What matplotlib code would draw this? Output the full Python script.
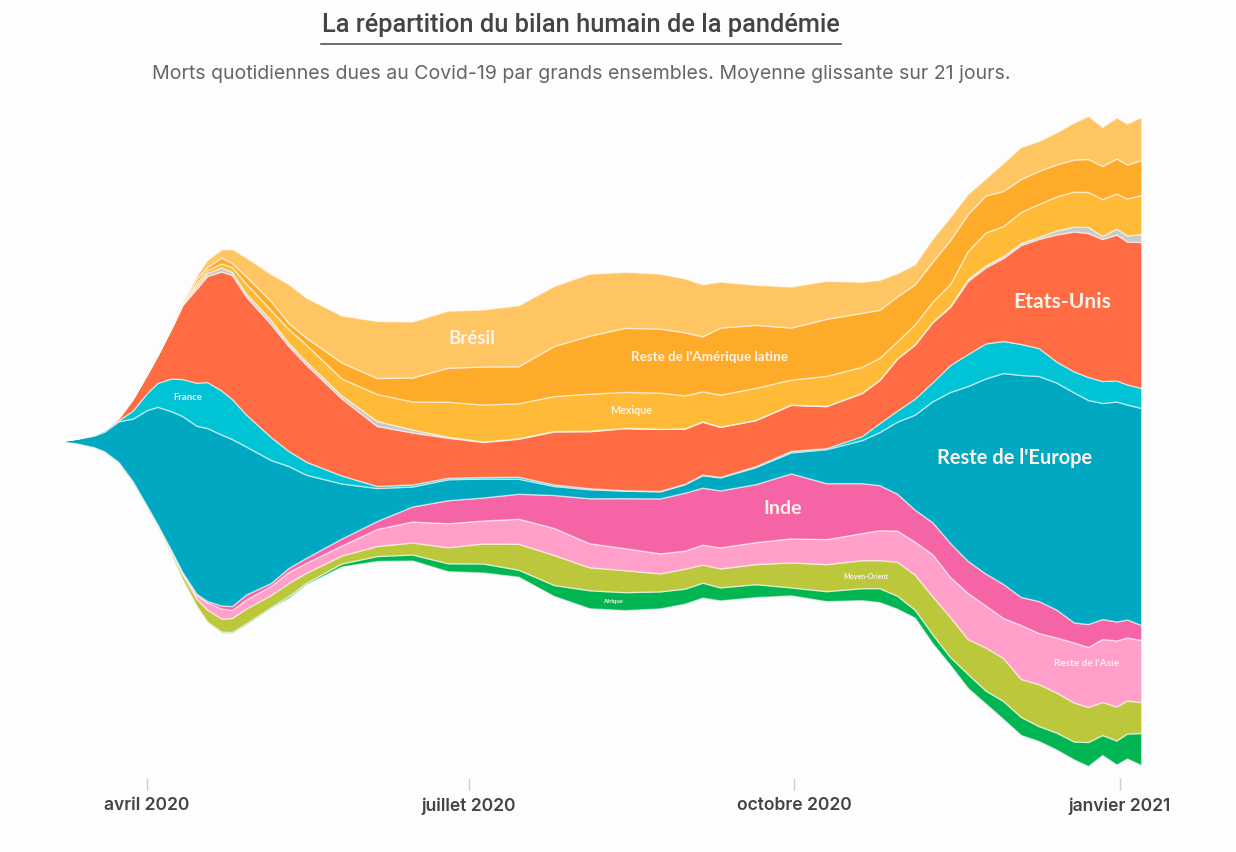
import matplotlib
matplotlib.use('Agg')
import matplotlib.pyplot as plt
import matplotlib.dates as mdates
import pandas as pd

# lecture sur l'image, hauteur relative de chaque bande (pas d'axe y sur l'original)
dates = ['2020-03-07', '2020-03-12', '2020-03-17', '2020-03-20', '2020-03-24', '2020-03-28',
         '2020-04-01', '2020-04-04', '2020-04-08', '2020-04-11', '2020-04-15', '2020-04-18',
         '2020-04-22', '2020-04-25', '2020-04-29', '2020-05-06', '2020-05-11', '2020-05-16',
         '2020-05-26', '2020-06-05', '2020-06-15', '2020-06-25', '2020-07-05', '2020-07-15',
         '2020-07-25', '2020-08-04', '2020-08-14', '2020-08-24', '2020-08-31', '2020-09-05',
         '2020-09-10', '2020-09-20', '2020-09-30', '2020-10-10', '2020-10-20', '2020-10-25',
         '2020-10-30', '2020-11-04', '2020-11-09', '2020-11-14', '2020-11-19', '2020-11-24',
         '2020-11-29', '2020-12-04', '2020-12-09', '2020-12-14', '2020-12-19', '2020-12-23',
         '2020-12-27', '2020-12-31', '2021-01-03', '2021-01-07']

afrique = [0, 0, 0, 0, 0.2, 0.2, 0.2, 0.2, 0.3, 0.3, 0.5, 0.5, 1, 1, 1, 1, 2, 1.5, 3, 5, 6, 8, 9, 7, 11, 18,
           18, 17, 15, 15, 13, 13, 8, 10, 12, 14, 13, 8, 9, 8, 14, 13, 18, 18, 15, 17, 18, 24, 20, 24, 25, 32]
moyen_orient = [0, 0.2, 0.5, 1, 1.5, 1.5, 2, 2, 3.5, 5, 7, 12, 13, 14, 15, 12, 13, 10, 8, 10, 12, 16, 20, 26, 30, 23,
                22, 18, 20, 18, 19, 20, 25, 27, 28, 28, 34, 35, 38, 40, 35, 43, 43, 38, 42, 40, 39, 35, 33, 34, 33, 31]
reste_asie = [0, 0, 0, 0, 0.2, 0.2, 0.2, 0.3, 0.5, 1.5, 3.5, 7, 10, 8, 9, 9, 11, 10, 10, 17, 21, 24, 23, 25, 27, 24,
              22, 20, 18, 20, 21, 22, 24, 25, 27, 30, 31, 33, 42, 40, 46, 42, 40, 54, 51, 55, 60, 60, 63, 66, 63, 62]
inde = [0, 0, 0, 0, 0.1, 0.1, 0.1, 0.2, 0.2, 0.5, 1.5, 1.5, 3, 4, 5, 3, 4, 5, 7, 8, 15, 23, 23, 25, 33, 45,
        50, 55, 58, 57, 57, 58, 65, 56, 50, 45, 37, 32, 32, 34, 32, 32, 34, 28, 32, 28, 20, 23, 20, 19, 18, 15]
reste_europe = [0, 4.5, 11.5, 20, 41, 63, 96, 118, 140, 156, 168, 173, 171, 167, 148, 123, 102, 83, 55, 33, 20, 21,
                19, 15, 9, 9, 7.5, 7, 8.5, 12.5, 13, 17, 21, 34, 43, 53, 72, 95, 121, 151, 175, 195, 211, 222, 225,
                227, 230, 224, 216, 220, 215, 217]
france = [0, 0.2, 1, 1.5, 1, 8, 17, 24, 33, 37, 43, 46, 44, 40, 32, 23, 15, 13, 8, 2, 2, 1.5, 1.5, 2, 1.5, 1,
          0.5, 0.5, 0.5, 0.5, 0.5, 1, 1.5, 1, 4, 9, 11, 16, 19, 27, 32, 35, 32, 31, 28, 21, 21, 23, 22, 21, 20, 20]
etats_unis = [0, 0.1, 0.3, 0.5, 2.5, 12, 19, 28, 51, 74, 94, 106, 119, 124, 118, 113, 105, 97, 77, 60, 52, 40, 35, 38,
              53, 57, 62, 62, 55, 53, 50, 46, 46, 42, 43, 43, 52, 54, 60, 58, 73, 76, 83, 99, 109, 127, 140, 144,
              142, 146, 143, 146]
canada = [0, 0, 0, 0, 0, 0, 0, 0, 0.3, 0.5, 3, 3, 4, 3, 3, 4, 3, 3, 3, 5, 3, 1, 0.5, 0.5, 0.5, 0.5,
          0.3, 0.3, 0.3, 0.3, 0.3, 0.3, 0.3, 0.3, 0.3, 0.3, 0.3, 0.3, 0.5, 1, 2, 2, 2, 2, 2, 4, 5, 6, 3, 6, 6, 8]
mexique = [0, 0, 0, 0, 0, 0, 0, 0, 0.2, 0.5, 3, 3, 4, 5, 10, 10, 14, 17, 17, 27, 28, 35, 37, 35, 35, 37,
           36, 36, 33, 30, 32, 32, 25, 30, 26, 22, 17, 20, 20, 22, 28, 33, 30, 31, 33, 34, 35, 35, 37, 35, 37, 39]
reste_amlat = [0, 0, 0, 0, 0, 0, 0, 0, 0.3, 0.5, 4, 3, 6, 4, 7, 9, 6, 7, 16, 16, 24, 34, 38, 37, 50, 58,
               64, 64, 63, 55, 67, 63, 52, 57, 54, 48, 45, 40, 40, 44, 37, 37, 35, 33, 33, 32, 32, 33, 33, 35, 34, 35]
bresil = [0, 0, 0, 0, 0, 0, 0.5, 0.3, 0.5, 1, 3, 7, 8, 14, 19, 27, 39, 40, 47, 57, 56, 57, 57, 61, 60, 62,
          56, 55, 54, 52, 46, 40, 41, 38, 31, 30, 23, 20, 23, 23, 20, 17, 28, 32, 30, 32, 37, 43, 39, 41, 41, 43]

series_colors = ['#00b552', '#bcc73c', '#ff9fca', '#f564a5', '#00a9c1', '#00c3d6',
                 '#ff6b42', '#c9c9c9', '#ffbb38', '#ffab2a', '#ffc562']
tick_dates = ['2020-04-01', '2020-07-01', '2020-10-01', '2021-01-01']
tick_labels = ['avril 2020', 'juillet 2020', 'octobre 2020', 'janvier 2021']

W, H = 1236, 852
BG = '#fdfdfd'
px_per_day = 3.538


def fx(x):
    return x / W


def fy(y):
    return 1 - y / H


fig = plt.figure(figsize=(W / 100, H / 100), dpi=100, facecolor=BG)
ax = fig.add_axes([0, 0, 1, 1])
ax.set_facecolor(BG)

x = mdates.date2num(pd.to_datetime(dates))
polys = ax.stackplot(x, afrique, moyen_orient, reste_asie, inde, reste_europe, france, etats_unis,
                     canada, mexique, reste_amlat, bresil, colors=series_colors, baseline='sym')
for p in polys:
    p.set_edgecolor((1, 1, 1, 0.55))
    p.set_linewidth(1.0)
    p.set_joinstyle('round')

apr1 = mdates.date2num(pd.Timestamp('2020-04-01'))
ax.set_xlim(apr1 - 147 / px_per_day, apr1 + (W - 147) / px_per_day)
ax.set_ylim(-(H - 441), 441)
ax.axis('off')

# graduations
ticks = mdates.date2num(pd.to_datetime(tick_dates))
ax.vlines(ticks, 441 - 790, 441 - 778, color='#cccccc', linewidth=1)
for t, lab in zip(ticks, tick_labels):
    ax.text(t, 441 - 806, lab, ha='center', va='center', fontsize=12.6, family='Inter',
            fontweight='semibold', color='#444444')

# titre
fig.text(fx(581), fy(25), 'La répartition du bilan humain de la pandémie', ha='center', va='center',
         fontsize=18.3, family='Roboto', fontweight='medium', color='#444444')
fig.add_artist(plt.Line2D([fx(321), fx(841)], [fy(44), fy(44)], color='#555555', linewidth=1.2))
fig.text(fx(581), fy(74), 'Morts quotidiennes dues au Covid-19 par grands ensembles. Moyenne glissante sur 21 jours.',
         ha='center', va='center', fontsize=14.05, family='Inter', color='#666666')

# étiquettes
labels = [
    ('Brésil', 472, 339, 13.5),
    ("Reste de l'Amérique latine", 709, 357, 9.6),
    ('Mexique', 631, 411, 7.7),
    ('France', 188, 397, 6.8),
    ('Etats-Unis', 1062, 302, 15.1),
    ("Reste de l'Europe", 1015, 458, 14.4),
    ('Inde', 783, 509, 14),
    ('Moyen-Orient', 866, 577, 5),
    ("Reste de l'Asie", 1087, 664, 7.2),
    ('Afrique', 613, 602, 4.2),
]
for txt, lx, ly, size in labels:
    fig.text(fx(lx), fy(ly), txt, ha='center', va='center', fontsize=size, family='Lato',
             fontweight='bold', color='#fdf3ea')

fig.savefig('out.png', dpi=100, facecolor=BG)
